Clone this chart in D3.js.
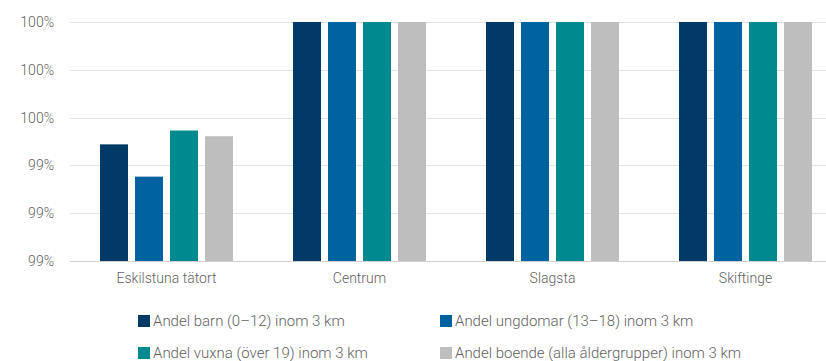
<!DOCTYPE html>
<html>
<head>
<meta charset="utf-8">
<script src="https://cdn.jsdelivr.net/npm/d3@7"></script>
<style>
  body { margin: 0; background: #fff; }
  text { font-family: Roboto, "Open Sans", sans-serif; font-weight: 300; fill: #5f5f5f; }
</style>
</head>
<body>
<svg id="chart"></svg>
<script>
// Data
const categories = ["Eskilstuna tätort", "Centrum", "Slagsta", "Skiftinge"];
const seriesNames = [
  "Andel barn (0–12) inom 3 km",
  "Andel ungdomar (13–18) inom 3 km",
  "Andel vuxna (över 19) inom 3 km",
  "Andel boende (alla åldergrupper) inom 3 km",
];
const barn = [0.99488, 1, 1, 1];
const ungdomar = [0.99353, 1, 1, 1];
const vuxna = [0.99546, 1, 1, 1];
const boende = [0.99522, 1, 1, 1];
const yTicks = [0.99, 0.992, 0.994, 0.996, 0.998, 1.0];
const colors = ["#003b68", "#0063a0", "#008a90", "#bebebe"];

const series = [barn, ungdomar, vuxna, boende];

const width = 826;
const height = 361;
const margin = { top: 22, left: 70, bottom: 261 };

const svg = d3.select("#chart").attr("width", width).attr("height", height);

const x = d3.scaleBand().domain(categories).range([margin.left, 842]);
const xSub = d3
  .scaleBand()
  .domain(d3.range(series.length))
  .range([30, x.bandwidth() - 30])
  .paddingInner(0.2);

const y = d3.scaleLinear().domain([0.99, 1.0]).range([margin.bottom, margin.top]);

// gridlines
svg
  .append("g")
  .selectAll("line")
  .data(yTicks)
  .join("line")
  .attr("x1", margin.left)
  .attr("x2", width)
  .attr("y1", (d) => Math.round(y(d)) + 0.5)
  .attr("y2", (d) => Math.round(y(d)) + 0.5)
  .attr("stroke", (d, i) => (i === 0 ? "#d0d0d0" : "#e2e2e2"))
  .attr("stroke-width", 1);

// y axis labels
const yAxis = d3
  .axisLeft(y)
  .tickValues(yTicks)
  .tickFormat(d3.format(".0%"))
  .tickSize(0)
  .tickPadding(0);

const yg = svg.append("g").attr("transform", `translate(54,0)`).call(yAxis);
yg.select(".domain").remove();
yg.selectAll("text").attr("font-size", "14px").style("font-family", null);

// bars
const groups = svg
  .append("g")
  .selectAll("g")
  .data(categories)
  .join("g")
  .attr("transform", (d) => `translate(${x(d)},0)`);

groups
  .selectAll("rect")
  .data((d, ci) => series.map((s, si) => ({ si, v: s[ci] })))
  .join("rect")
  .attr("x", (d) => xSub(d.si))
  .attr("width", xSub.bandwidth())
  .attr("y", (d) => y(d.v))
  .attr("height", (d) => y(0.99) - y(d.v))
  .attr("fill", (d) => colors[d.si]);

// x axis labels
const xAxis = d3.axisBottom(x).tickSize(0).tickPadding(0);
const xg = svg.append("g").attr("transform", `translate(0,${margin.bottom + 12})`).call(xAxis);
xg.select(".domain").remove();
xg.selectAll("text").attr("font-size", "14px").style("font-family", null);

// legend
const legendPos = [
  [138, 321],
  [440, 321],
  [138, 353],
  [440, 353],
];
const legend = svg
  .append("g")
  .selectAll("g")
  .data(seriesNames)
  .join("g")
  .attr("transform", (d, i) => `translate(${legendPos[i][0]},${legendPos[i][1]})`);

legend
  .append("rect")
  .attr("x", 0)
  .attr("y", -6)
  .attr("width", 12)
  .attr("height", 12)
  .attr("fill", (d, i) => colors[i]);

legend
  .append("text")
  .attr("x", 15)
  .attr("dy", "0.35em")
  .attr("font-size", "15px")
  .text((d) => d);
</script>
</body>
</html>
